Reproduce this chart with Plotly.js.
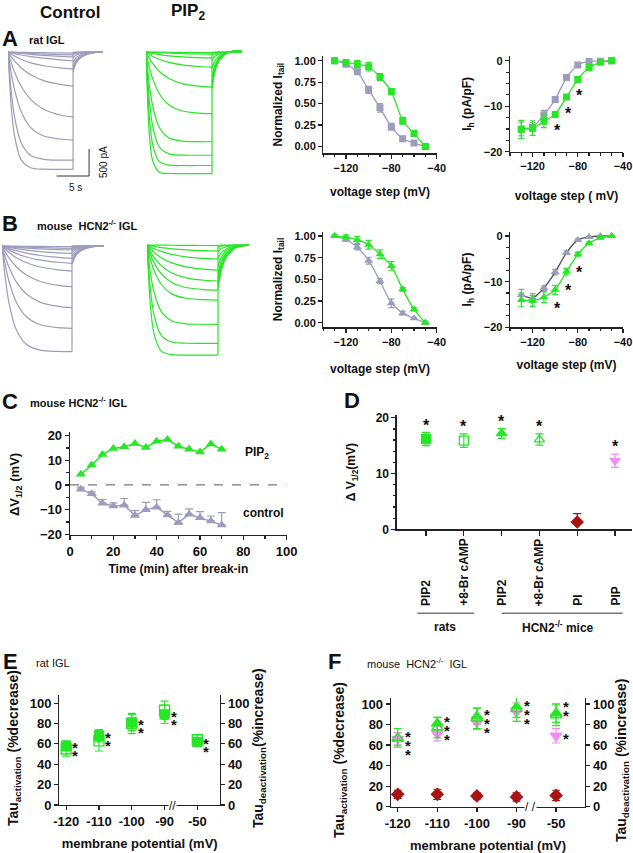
<!DOCTYPE html>
<html>
<head>
<meta charset="utf-8">
<script src="https://cdn.plot.ly/plotly-3.0.1.min.js"></script>
<style>
  html, body { margin: 0; padding: 0; background: #fff; }
  #fig { width: 633px; height: 853px; }
</style>
</head>
<body>
<div id="fig"></div>
<script>
const W = 633, H = 853;
const green = "#26e626";
const grey = "#9c9cbc";
const darkRed = "#a81414";
const pink = "#f28ef2";

// ---- current sweeps (pA): samples in the 10 s step, then in the tail ----
const stepTimes = [0, 0.5, 1, 2, 3.5, 5.5, 8, 10];
const tailTimes = [10, 10.5, 11.2, 12.5, 14.5];

const ratCtlSteps = [
	[0, -2, -4, -7, -10, -13, -17, -20],
	[0, -5, -9, -17, -27, -38, -48, -55],
	[0, -8, -15, -28, -45, -62, -80, -90],
	[0, -15, -30, -55, -85, -115, -145, -165],
	[0, -40, -75, -135, -200, -255, -295, -315],
	[0, -90, -165, -290, -420, -530, -600, -630],
	[0, -205, -370, -630, -880, -1060, -1165, -1200],
	[0, -395, -695, -1095, -1400, -1555, -1610, -1630],
	[0, -730, -1195, -1675, -1915, -1985, -2000, -2000],
	[0, -1010, -1550, -1990, -2140, -2168, -2170, -2170]
];
const ratCtlTails = [
	[-5, -3, -1, 0, 0], [-15, -8, -4, -1, 0], [-25, -14, -7, -2, 0], [-50, -28, -14, -4, 0],
	[-100, -55, -28, -8, 0], [-180, -99, -50, -14, 0], [-260, -143, -73, -21, 0],
	[-310, -170, -87, -25, 0], [-340, -187, -95, -27, 0], [-360, -198, -101, -29, 0]
];
const ratPipSteps = [
	[0, -1, -2, -3, -5, -7, -9, -10],
	[0, -4, -8, -14, -22, -30, -36, -40],
	[0, -14, -27, -47, -70, -90, -104, -110],
	[0, -41, -77, -134, -192, -239, -268, -280],
	[0, -116, -212, -357, -491, -584, -633, -650],
	[0, -278, -488, -768, -980, -1091, -1131, -1140],
	[0, -606, -991, -1391, -1590, -1648, -1658, -1660],
	[0, -888, -1362, -1753, -1885, -1908, -1910, -1910],
	[0, -1187, -1703, -2024, -2094, -2100, -2100, -2100],
	[0, -1510, -2007, -2223, -2248, -2250, -2250, -2250]
];
const ratPipTails = [
	[-5, -2, -1, 0, 0], [-20, -10, -4, 0, 0], [-60, -30, -12, -2, 0], [-150, -75, -32, -5, 5],
	[-300, -150, -60, -5, 10], [-450, -220, -90, -5, 15], [-560, -270, -110, -5, 20],
	[-620, -300, -120, -5, 20], [-660, -320, -130, -5, 25], [-680, -330, -135, -5, 25]
];
const mouseCtlSteps = [
	[0, -1, -2, -4, -6, -8, -11, -13],
	[0, -3, -7, -13, -22, -31, -39, -43],
	[0, -6, -13, -25, -40, -55, -68, -74],
	[0, -13, -26, -49, -77, -103, -127, -135],
	[0, -25, -48, -87, -132, -176, -210, -228],
	[0, -41, -77, -137, -203, -260, -301, -320],
	[0, -65, -122, -213, -310, -389, -441, -463],
	[0, -120, -221, -380, -538, -656, -727, -753],
	[0, -218, -395, -655, -889, -1042, -1117, -1141],
	[0, -372, -652, -1026, -1310, -1457, -1511, -1523],
	[0, -624, -1050, -1535, -1822, -1926, -1951, -1955]
];
const mouseCtlTails = [
	[-3, -2, -1, 0, 0], [-8, -4, -2, -1, 0], [-15, -8, -4, -1, 0], [-30, -17, -8, -2, 0],
	[-50, -28, -14, -4, 0], [-80, -44, -22, -6, 0], [-120, -66, -34, -10, 0],
	[-180, -99, -50, -14, 0], [-240, -132, -67, -19, 0], [-300, -165, -84, -24, 0],
	[-340, -187, -95, -27, 0]
];
const mousePipSteps = [
	[0, -1, -2, -3, -5, -7, -9, -10],
	[0, -14, -27, -48, -70, -90, -105, -111],
	[0, -37, -68, -119, -174, -218, -247, -259],
	[0, -74, -136, -234, -331, -403, -447, -463],
	[0, -127, -230, -382, -519, -608, -652, -666],
	[0, -186, -330, -530, -693, -786, -824, -833],
	[0, -273, -473, -726, -904, -985, -1011, -1018],
	[0, -535, -876, -1229, -1405, -1457, -1466, -1467],
	[0, -846, -1297, -1670, -1795, -1817, -1819, -1819],
	[0, -1150, -1650, -1962, -2029, -2035, -2035, -2035]
];
const mousePipTails = [
	[-5, -3, -1, 0, 0], [-40, -22, -11, -2, 0], [-120, -66, -32, -7, 0], [-250, -138, -68, -15, 0],
	[-400, -220, -108, -24, 0], [-520, -286, -140, -31, 0], [-620, -341, -167, -37, 0],
	[-720, -396, -194, -43, 0], [-780, -429, -211, -47, 0], [-820, -451, -221, -49, 0]
];

// ---- activation curves and I-V ----
const stepV = [-130, -120, -110, -100, -90, -80, -70, -60, -50];
const ratTailCtl = [1.00, 0.96, 0.87, 0.66, 0.45, 0.23, 0.09, 0.04, 0.00];
const ratTailCtlErr = [0.01, 0.02, 0.03, 0.04, 0.05, 0.04, 0.02, 0.01, 0.01];
const ratTailPip = [1.00, 0.98, 0.96, 0.93, 0.81, 0.64, 0.30, 0.15, 0.00];
const ratTailPipErr = [0.01, 0.02, 0.04, 0.05, 0.04, 0.03, 0.04, 0.02, 0.01];
const ratIhCtl = [-15.0, -14.6, -11.9, -8.5, -3.7, -0.95, -0.15, -0.1, 0];
const ratIhCtlErr = [1.5, 1.0, 1.0, 0.5, 0.3, 0.2, 0.1, 0.1, 0.1];
const ratIhPip = [-15.1, -14.8, -13.3, -11.8, -7.95, -4.1, -1.5, -0.35, 0];
const ratIhPipErr = [2.0, 1.6, 1.4, 0.6, 0.5, 0.4, 0.3, 0.2, 0.1];

const mouseTailCtl = [1.00, 0.96, 0.87, 0.715, 0.48, 0.225, 0.11, 0.05, 0.00];
const mouseTailCtlErr = [0.01, 0.02, 0.03, 0.04, 0.03, 0.05, 0.02, 0.01, 0.01];
const mouseTailPip = [1.00, 0.99, 0.955, 0.90, 0.79, 0.655, 0.385, 0.155, 0.00];
const mouseTailPipErr = [0.01, 0.02, 0.04, 0.05, 0.05, 0.05, 0.02, 0.02, 0.01];
const mouseIhCtl = [-12.9, -13.6, -11.4, -7.9, -3.65, -0.9, -0.2, 0, 0];
const mouseIhCtlErr = [1.2, 1.0, 0.5, 0.6, 0.4, 0.2, 0.1, 0.1, 0.1];
const mouseIhPip = [-14.0, -14.2, -13.4, -11.8, -7.8, -4.0, -1.6, -0.4, 0];
const mouseIhPipErr = [1.5, 1.2, 1.2, 1.0, 0.7, 0.4, 0.3, 0.2, 0.1];
const ihSig = [3, 4, 5];

// ---- C: time course ----
const timeMin = [5, 10, 15, 20, 25, 30, 35, 40, 45, 50, 55, 60, 65, 70];
const dvPip = [4.3, 8.1, 12.4, 14.8, 15.5, 16.8, 15.2, 17.7, 18.4, 15.7, 14.5, 13.4, 16.6, 14.5];
const dvCtl = [-1.7, -3.6, -7.4, -8.5, -8.2, -12.4, -10.1, -9.0, -12.2, -15.3, -11.9, -13.3, -14.6, -16.2];
const dvCtlErr = [0.8, 0.8, 1.5, 1.2, 2.7, 2.0, 3.0, 3.0, 1.5, 3.5, 2.2, 2.5, 2.0, 5.0];

// ---- D: summary ----
const dCats = ["PIP2", "+8-Br cAMP", "PIP2", "+8-Br cAMP", "PI", "PIP"];
const dShift = [16.2, 15.9, 17.2, 16.1, 1.3, 12.3];
const dErr = [1.2, 1.2, 0.9, 1.0, 1.5, 1.2];
const dSig = [true, true, true, true, false, true];
const dGroups = ["rats", "HCN2<sup>-/-</sup> mice"];
const dSymbols = ["square", "square-open", "triangle-up", "triangle-up-open", "diamond", "triangle-down"];
const dColors = [green, green, green, green, darkRed, pink];

// ---- E / F: kinetics ----
const memV = ["-120", "-110", "-100", "-90", "-50"];
const ratTauAct = [58, 68, 81, 89, 62];
const ratTauActErr = [5, 6, 8, 9, 3];
const ratTauDeact = [55, 63, 80, 93, 64];
const ratTauDeactErr = [7, 10, 10, 9, 5];
const mouseTauAct = [66, 81, 88, 97, 91];
const mouseTauActErr = [6, 6, 8, 10, 9];
const mouseTauDeact = [67, 77, 86, 95, 89];
const mouseTauDeactErr = [9, 10, 10, 12, 10];
const pipTau = [66, 71, 82, 92, 69];
const pipTauErr = [6, 7, 7, 9, 7];
const piTau = [12, 12, 10.5, 9.5, 11];
const piTauErr = [4, 5, 3, 4, 5];

// ---------------------------------------------------------------
const px = (a, b) => [a / W, b / W];
const py = (a, b) => [1 - b / H, 1 - a / H];
const font = (size, weight) => ({ family: "Liberation Sans, Arial, sans-serif", size: size, color: "#111", weight: weight || "bold" });

const axis = (extra) => Object.assign({
	showline: true, linecolor: "#222", linewidth: 1.3,
	ticks: "outside", ticklen: 4, tickwidth: 1.2, tickcolor: "#222",
	showgrid: false, zeroline: false, tickfont: font(11), fixedrange: true
}, extra);
const hidden = (extra) => Object.assign({ visible: false, fixedrange: true }, extra);
const title = (text, size, standoff) => ({ text: text, font: font(size || 12), standoff: standoff });
const minor = (d) => ({ ticks: "outside", dtick: d, ticklen: 2.5, tickcolor: "#222" });

const sweepTraces = (steps, tails, color, xa, ya) => steps.map((s, i) => ({
	x: stepTimes.concat([null], tailTimes),
	y: s.concat([null], tails[i]),
	xaxis: xa, yaxis: ya, type: "scatter", mode: "lines",
	connectgaps: false, hoverinfo: "skip",
	line: { color: color, width: 1.2, shape: "spline", smoothing: 0.8 }
}));

// vertical jump at the end of the step, from the deepest sweep to the tails
const jumpLine = (steps, tails, color, xa, ya) => ({
	type: "line", xref: xa, yref: ya,
	x0: stepTimes[stepTimes.length - 1], x1: stepTimes[stepTimes.length - 1],
	y0: Math.min(...steps.map(s => s[s.length - 1])),
	y1: Math.max(...tails.map(t => t[0])),
	line: { color: color, width: 1.2 }
});

const ivTrace = (x, y, err, color, symbol, xa, ya, lineColor, size) => ({
	x: x, y: y, xaxis: xa, yaxis: ya, type: "scatter", mode: "lines+markers",
	line: { color: lineColor || color, width: 1.3, shape: "spline", smoothing: 0.6 },
	marker: { color: color, symbol: symbol, size: size || 7 },
	error_y: { type: "data", array: err, color: color, thickness: 1.2, width: 3 }
});

const ann = (text, x, y, size, extra) => Object.assign({
	xref: "paper", yref: "paper", x: x / W, y: 1 - y / H, text: text,
	xanchor: "center", yanchor: "middle", showarrow: false, font: font(size)
}, extra);
const dAnn = (text, xa, ya, x, y, size, extra) => Object.assign({
	xref: xa, yref: ya, x: x, y: y, text: text,
	xanchor: "center", yanchor: "middle", showarrow: false, font: font(size)
}, extra);

const traces = [];
const shapes = [];
const annotations = [];

// A / B raw traces
traces.push(...sweepTraces(ratCtlSteps, ratCtlTails, grey, "x", "y"));
traces.push(...sweepTraces(ratPipSteps, ratPipTails, green, "x2", "y2"));
traces.push(...sweepTraces(mouseCtlSteps, mouseCtlTails, grey, "x5", "y5"));
traces.push(...sweepTraces(mousePipSteps, mousePipTails, green, "x6", "y6"));
shapes.push(jumpLine(ratCtlSteps, ratCtlTails, grey, "x", "y"));
shapes.push(jumpLine(ratPipSteps, ratPipTails, green, "x2", "y2"));
shapes.push(jumpLine(mouseCtlSteps, mouseCtlTails, grey, "x5", "y5"));
shapes.push(jumpLine(mousePipSteps, mousePipTails, green, "x6", "y6"));

// scale bar, 5 s and 500 pA
const barT = 5, barI = 500, barT0 = 12.46, barI0 = -2294;
shapes.push({ type: "line", xref: "x", yref: "y", x0: barT0, x1: barT0, y0: barI0, y1: barI0 + barI, line: { color: "#333", width: 1 } });
shapes.push({ type: "line", xref: "x", yref: "y", x0: barT0 - barT, x1: barT0, y0: barI0, y1: barI0, line: { color: "#333", width: 1 } });
annotations.push(ann("5 s", 75, 187, 10, { font: font(10, "normal") }));
annotations.push(ann("500 pA", 103, 162, 10, { textangle: -90, font: font(10, "normal") }));

// A / B activation and I-V
traces.push(ivTrace(stepV, ratTailCtl, ratTailCtlErr, grey, "square", "x3", "y3"));
traces.push(ivTrace(stepV, ratTailPip, ratTailPipErr, green, "square", "x3", "y3"));
traces.push(ivTrace(stepV, ratIhCtl, ratIhCtlErr, grey, "square", "x4", "y4"));
traces.push(ivTrace(stepV, ratIhPip, ratIhPipErr, green, "square", "x4", "y4"));
traces.push(ivTrace(stepV, mouseTailCtl, mouseTailCtlErr, grey, "triangle-up", "x7", "y7", null, 8));
traces.push(ivTrace(stepV, mouseTailPip, mouseTailPipErr, green, "triangle-up", "x7", "y7", null, 8));
traces.push(ivTrace(stepV, mouseIhCtl, mouseIhCtlErr, grey, "triangle-up", "x8", "y8", "#555", 8));
traces.push(ivTrace(stepV, mouseIhPip, mouseIhPipErr, green, "triangle-up", "x8", "y8", null, 8));
ihSig.forEach(i => {
	annotations.push(dAnn("*", "x4", "y4", stepV[i], ratIhPip[i] - 2.9, 16, { xshift: 2, yshift: -3 }));
	annotations.push(dAnn("*", "x8", "y8", stepV[i], mouseIhPip[i] - 3.4, 16, { xshift: 2, yshift: -3 }));
});

// C
traces.push({
	x: timeMin, y: dvCtl, xaxis: "x9", yaxis: "y9", type: "scatter", mode: "lines+markers",
	line: { color: grey, width: 1.5 }, marker: { color: grey, symbol: "triangle-up", size: 9 },
	error_y: { type: "data", symmetric: false, array: dvCtlErr, arrayminus: dvCtlErr.map(() => 0), color: grey, thickness: 1.2, width: 4 }
});
traces.push({
	x: timeMin, y: dvPip, xaxis: "x9", yaxis: "y9", type: "scatter", mode: "lines+markers",
	line: { color: green, width: 1.5 }, marker: { color: green, symbol: "triangle-up", size: 9 }
});
shapes.push({ type: "line", xref: "x9", yref: "y9", x0: 0, x1: 100, y0: 0, y1: 0, line: { color: "#777", width: 1.2, dash: "dash" } });
annotations.push(dAnn("PIP<sub>2</sub>", "x9", "y9", 86.2, 12.9, 12));
annotations.push(dAnn("control", "x9", "y9", 89.5, -11.5, 12));
annotations.push(ann("ΔV<sub>1/2</sub> (mV)", 16, 485, 13, { textangle: -90 }));

// D
dCats.forEach((c, i) => {
	const oneSided = !dSig[i];
	traces.push({
		x: [i + 1], y: [dShift[i]], xaxis: "x10", yaxis: "y10", type: "scatter", mode: "markers",
		marker: { color: dColors[i], symbol: dSymbols[i], size: 9, line: { color: dColors[i], width: 1.3 } },
		error_y: { type: "data", symmetric: !oneSided, array: [dErr[i]], arrayminus: [oneSided ? 0 : dErr[i]], color: dColors[i], thickness: 1.2, width: 4 }
	});
	annotations.push(dAnn(c, "x10", "paper", i + 1, 1 - 608 / H, 12, { textangle: -90, yanchor: "bottom" }));
	if (dSig[i]) annotations.push(dAnn("*", "x10", "y10", i + 1, dShift[i] + dErr[i] + 1.8, 16, { yshift: -3 }));
});
[[0.77, 2.27], [3.0, 6.2]].forEach(g => shapes.push({
	type: "line", xref: "x10", yref: "paper", x0: g[0], x1: g[1], y0: 1 - 613.3 / H, y1: 1 - 613.3 / H,
	line: { color: "#777", width: 1.5 }
}));
annotations.push(dAnn(dGroups[0], "x10", "paper", 1.5, 1 - 627 / H, 12));
annotations.push(dAnn(dGroups[1], "x10", "paper", 4.5, 1 - 627 / H, 12));

// E
const tauTrace = (y, err, color, symbol, size, xa, ya) => ({
	x: memV, y: y, xaxis: xa, yaxis: ya, type: "scatter", mode: "markers",
	marker: { color: color, symbol: symbol, size: size, line: { color: color, width: 1.4 } },
	error_y: { type: "data", array: err, color: color, thickness: 1.2, width: 4 }
});
traces.push(tauTrace(ratTauDeact, ratTauDeactErr, green, "square-open", 10, "x11", "y12"));
traces.push(tauTrace(ratTauAct, ratTauActErr, green, "square", 9, "x11", "y11"));
memV.forEach((v, i) => {
	[-2, -10].forEach(s => annotations.push(dAnn("*", "x11", "y11", i, ratTauAct[i], 15, { xshift: 9, yshift: s })));
});
annotations.push(ann("Tau<sub>activation</sub> (%decrease)", 14, 748, 14, { textangle: -90 }));
annotations.push(ann("Tau<sub>deactivation</sub>(%increase)", 259, 748, 14, { textangle: -90 }));

// F
traces.push(tauTrace(mouseTauDeact, mouseTauDeactErr, green, "triangle-up-open", 10, "x12", "y14"));
traces.push(tauTrace(mouseTauAct, mouseTauActErr, green, "triangle-up", 10, "x12", "y13"));
traces.push(tauTrace(pipTau, pipTauErr, pink, "triangle-down", 10, "x12", "y13"));
traces.push(tauTrace(piTau, piTauErr, darkRed, "diamond", 9, "x12", "y13"));
memV.forEach((v, i) => {
	const shifts = i < 4 ? [2, -7, -16] : [7, -2];
	shifts.forEach(s => annotations.push(dAnn("*", "x12", "y13", i, mouseTauAct[i], 15, { xshift: 10, yshift: s })));
});
annotations.push(dAnn("*", "x12", "y13", memV.length - 1, pipTau[4], 15, { xshift: 10, yshift: -3 }));
annotations.push(ann("Tau<sub>activation</sub> (%decrease)", 340, 760, 14, { textangle: -90 }));
annotations.push(ann("Tau<sub>deactivation</sub> (%increase)", 622, 760, 14, { textangle: -90 }));

// axis breaks
annotations.push(ann("//", 172, 806, 12, { bgcolor: "#fff", borderpad: 0, font: font(12, "normal") }));
annotations.push(ann("/ /", 530, 807, 12, { bgcolor: "#fff", borderpad: 0, font: font(12, "normal") }));

// headers and panel labels
annotations.push(ann("Control", 70, 12, 17));
annotations.push(ann("PIP<sub>2</sub>", 188, 12, 17));
annotations.push(ann("A", 10, 38, 22));
annotations.push(ann("rat IGL", 47, 40, 11));
annotations.push(ann("B", 10, 223, 22));
annotations.push(ann("mouse  HCN2<sup>-/-</sup> IGL", 87, 225, 11));
annotations.push(ann("C", 10, 401, 22));
annotations.push(ann("mouse HCN2<sup>-/-</sup> IGL", 78, 402, 11));
annotations.push(ann("D", 352, 400, 22));
annotations.push(ann("E", 10, 661, 22));
annotations.push(ann("rat IGL", 53, 663, 11, { font: font(11, "normal") }));
annotations.push(ann("F", 334, 661, 22));
annotations.push(ann("mouse  HCN2<sup>-/-</sup>  IGL", 417, 663, 11, { font: font(11, "normal") }));

const ivX = (t, so) => axis({ range: [-140, -40], tick0: -120, dtick: 40, minor: minor(10), title: title(t, 12, so) });

const layout = {
	width: W, height: H,
	margin: { l: 0, r: 0, t: 0, b: 0 },
	paper_bgcolor: "#fff", plot_bgcolor: "rgba(0,0,0,0)",
	showlegend: false,
	font: font(11),
	xaxis: hidden({ domain: px(8, 103), range: [0, 14.6], anchor: "y" }),
	yaxis: hidden({ domain: py(48, 180), range: [-2368, 74], anchor: "x" }),
	xaxis2: hidden({ domain: px(146, 244), range: [0, 14.85], anchor: "y2" }),
	yaxis2: hidden({ domain: py(48, 180), range: [-2368, 74], anchor: "x2" }),
	xaxis3: Object.assign(ivX("voltage step (mV)", 14), { domain: px(323.3, 436.7), anchor: "y3" }),
	yaxis3: axis({ domain: py(56, 153.3), range: [-0.08, 1.055], tickvals: [0, 0.25, 0.5, 0.75, 1], tickformat: ".2f", anchor: "x3", title: title("Normalized I<sub>tail</sub>", 12, 9) }),
	xaxis4: Object.assign(ivX("voltage step ( mV)", 20), { domain: px(510, 623), anchor: "y4" }),
	yaxis4: axis({ domain: py(56, 151.7), range: [-20, 1.04], dtick: 10, minor: minor(2.5), anchor: "x4", title: title("I<sub>h</sub> (pA/pF)", 12, 9) }),
	xaxis5: hidden({ domain: px(2, 104), range: [0, 14.57], anchor: "y5" }),
	yaxis5: hidden({ domain: py(242, 358), range: [-2072, 74], anchor: "x5" }),
	xaxis6: hidden({ domain: px(147, 249), range: [0, 14.37], anchor: "y6" }),
	yaxis6: hidden({ domain: py(241, 358), range: [-2090, 74], anchor: "x6" }),
	xaxis7: Object.assign(ivX("voltage step (mV)", 17), { domain: px(323.3, 436.7), anchor: "y7" }),
	yaxis7: axis({ domain: py(231.7, 327.3), range: [-0.053, 1.05], tickvals: [0, 0.25, 0.5, 0.75, 1], tickformat: ".2f", anchor: "x7", title: title("Normalized I<sub>tail</sub>", 12, 9) }),
	xaxis8: Object.assign(ivX("voltage step (mV)", 13), { domain: px(510, 623), anchor: "y8" }),
	yaxis8: axis({ domain: py(231.7, 327.3), range: [-20, 0.94], dtick: 10, minor: minor(2.5), anchor: "x8", title: title("I<sub>h</sub> (pA/pF)", 12, 9) }),
	xaxis9: axis({ domain: px(70, 286.7), range: [0, 100], dtick: 20, minor: minor(10), tickfont: font(13), anchor: "y9", title: title("Time (min) after break-in", 12, 6) }),
	yaxis9: axis({ domain: py(431.7, 535), range: [-20.3, 21.6], dtick: 10, minor: minor(5), tickfont: font(13), anchor: "x9" }),
	xaxis10: axis({ domain: px(396.7, 631.7), range: [0.225, 6.44], tickvals: [1, 2, 3, 4, 5, 6], showticklabels: false, ticklen: 5, anchor: "y10" }),
	yaxis10: axis({ domain: py(415, 529.3), range: [0, 20.5], dtick: 10, minor: minor(2), tickfont: font(12), anchor: "x10", title: title("Δ V<sub>1/2</sub>(mV)", 12, 17) }),
	xaxis11: axis({ domain: px(59.3, 220), type: "category", categoryorder: "array", categoryarray: memV, range: [-0.21, 4.69], tickfont: font(13), anchor: "y11", title: title("membrane potential (mV)", 13, 11) }),
	yaxis11: axis({ domain: py(695, 805), range: [0, 108], dtick: 20, tickfont: font(13), anchor: "x11" }),
	yaxis12: axis({ overlaying: "y11", side: "right", anchor: "x11", range: [0, 108], dtick: 20, tickfont: font(13) }),
	xaxis12: axis({ domain: px(391, 585), type: "category", categoryorder: "array", categoryarray: memV, range: [-0.17, 4.73], tickfont: font(13), anchor: "y13", title: title("membrane potential (mV)", 13, 13) }),
	yaxis13: axis({ domain: py(698.3, 806.7), range: [0, 105.5], dtick: 20, tickfont: font(13), anchor: "x12" }),
	yaxis14: axis({ overlaying: "y13", side: "right", anchor: "x12", range: [0, 105.5], dtick: 20, tickfont: font(13) }),
	shapes: shapes,
	annotations: annotations
};

Plotly.newPlot("fig", traces, layout, { displayModeBar: false, staticPlot: true });
</script>
</body>
</html>
